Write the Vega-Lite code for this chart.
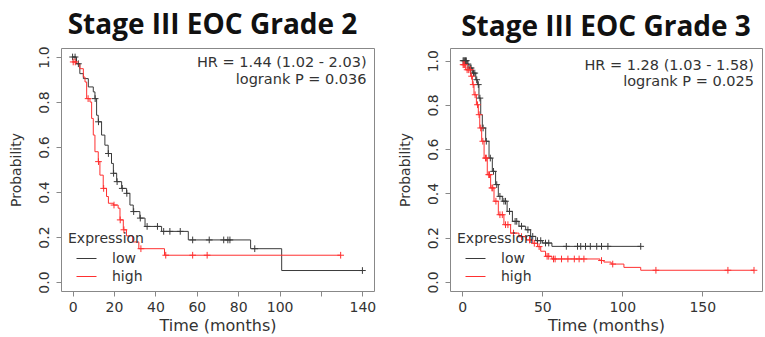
{
  "$schema": "https://vega.github.io/schema/vega-lite/v6.json",
  "background": "white",
  "padding": {"left": 8, "top": 11, "right": 0, "bottom": 0},
  "spacing": 20,
  "config": {
    "font": "DejaVu Sans",
    "view": {"stroke": "#888", "strokeWidth": 1},
    "axis": {"grid": false, "domain": false, "tickColor": "#888", "tickSize": 5, "labelColor": "#333", "titleColor": "#333", "labelFontSize": 14, "titleFontSize": 16, "titleFontWeight": "normal", "labelFont": "DejaVu Sans", "titleFont": "DejaVu Sans", "labelOverlap": false, "labelFlush": false},
    "axisY": {"labelAngle": -90, "labelAlign": "center", "labelBaseline": "bottom", "labelPadding": 5, "titlePadding": 14, "titleFontSize": 14},
    "axisX": {"labelPadding": 4, "titlePadding": 3},
    "legend": {"orient": "bottom-left", "offset": 7, "padding": 0, "titleFontSize": 14, "titleFont": "DejaVu Sans", "titleFontWeight": "normal", "titleColor": "#333", "titlePadding": 2, "labelFontSize": 14, "labelFont": "DejaVu Sans", "labelColor": "#333", "symbolType": "stroke", "symbolSize": 400, "symbolStrokeWidth": 1, "symbolOffset": 8, "labelOffset": 15, "rowPadding": 0}
  },
  "resolve": {"scale": {"color": "independent", "stroke": "independent"}, "legend": {"color": "independent", "stroke": "independent"}},
  "datasets": {
    "g2_curve": [
      {"grp": "low", "t": 0, "s": 1.0}, {"grp": "low", "t": 1.9, "s": 0.97}, {"grp": "low", "t": 3.5, "s": 0.926}, {"grp": "low", "t": 5.2, "s": 0.904}, {"grp": "low", "t": 7.6, "s": 0.867}, {"grp": "low", "t": 10, "s": 0.845}, {"grp": "low", "t": 10.8, "s": 0.815}, {"grp": "low", "t": 11.6, "s": 0.741}, {"grp": "low", "t": 12.4, "s": 0.712}, {"grp": "low", "t": 14, "s": 0.653}, {"grp": "low", "t": 15.6, "s": 0.608}, {"grp": "low", "t": 17.2, "s": 0.571}, {"grp": "low", "t": 18.8, "s": 0.527}, {"grp": "low", "t": 19.7, "s": 0.483}, {"grp": "low", "t": 21.3, "s": 0.446}, {"grp": "low", "t": 23.7, "s": 0.416}, {"grp": "low", "t": 26.1, "s": 0.394}, {"grp": "low", "t": 27.7, "s": 0.342}, {"grp": "low", "t": 29.3, "s": 0.313}, {"grp": "low", "t": 32.5, "s": 0.284}, {"grp": "low", "t": 35, "s": 0.247}, {"grp": "low", "t": 43, "s": 0.225}, {"grp": "low", "t": 55.9, "s": 0.187}, {"grp": "low", "t": 86, "s": 0.148}, {"grp": "low", "t": 101, "s": 0.051}, {"grp": "low", "t": 140, "s": 0.051},
      {"grp": "high", "t": 0, "s": 0.978}, {"grp": "high", "t": 1.9, "s": 0.97}, {"grp": "high", "t": 3.5, "s": 0.948}, {"grp": "high", "t": 5.2, "s": 0.911}, {"grp": "high", "t": 6, "s": 0.889}, {"grp": "high", "t": 6.8, "s": 0.815}, {"grp": "high", "t": 8.4, "s": 0.8}, {"grp": "high", "t": 9.2, "s": 0.727}, {"grp": "high", "t": 10, "s": 0.653}, {"grp": "high", "t": 10.8, "s": 0.579}, {"grp": "high", "t": 12.4, "s": 0.535}, {"grp": "high", "t": 13.2, "s": 0.475}, {"grp": "high", "t": 14.8, "s": 0.416}, {"grp": "high", "t": 16.4, "s": 0.38}, {"grp": "high", "t": 17.3, "s": 0.35}, {"grp": "high", "t": 19.7, "s": 0.342}, {"grp": "high", "t": 22, "s": 0.328}, {"grp": "high", "t": 22.9, "s": 0.276}, {"grp": "high", "t": 24.5, "s": 0.232}, {"grp": "high", "t": 26, "s": 0.205}, {"grp": "high", "t": 29, "s": 0.178}, {"grp": "high", "t": 32, "s": 0.148}, {"grp": "high", "t": 44.4, "s": 0.119}, {"grp": "high", "t": 129.5, "s": 0.119}
    ],
    "g2_cens": [
      {"grp": "low", "t": 0, "s": 1.0}, {"grp": "low", "t": 1.2, "s": 1.0}, {"grp": "low", "t": 2.8, "s": 0.97}, {"grp": "low", "t": 10.9, "s": 0.815}, {"grp": "low", "t": 12.5, "s": 0.712}, {"grp": "low", "t": 17.3, "s": 0.571}, {"grp": "low", "t": 19.8, "s": 0.483}, {"grp": "low", "t": 21.5, "s": 0.446}, {"grp": "low", "t": 24, "s": 0.416}, {"grp": "low", "t": 26.2, "s": 0.394}, {"grp": "low", "t": 29.5, "s": 0.313}, {"grp": "low", "t": 32.7, "s": 0.284}, {"grp": "low", "t": 36, "s": 0.247}, {"grp": "low", "t": 41, "s": 0.247}, {"grp": "low", "t": 44, "s": 0.225}, {"grp": "low", "t": 47, "s": 0.225}, {"grp": "low", "t": 52, "s": 0.225}, {"grp": "low", "t": 58, "s": 0.187}, {"grp": "low", "t": 66, "s": 0.187}, {"grp": "low", "t": 73, "s": 0.187}, {"grp": "low", "t": 75, "s": 0.187}, {"grp": "low", "t": 76, "s": 0.187}, {"grp": "low", "t": 88, "s": 0.148}, {"grp": "low", "t": 140, "s": 0.051},
      {"grp": "high", "t": 0.3, "s": 0.978}, {"grp": "high", "t": 1.3, "s": 0.978}, {"grp": "high", "t": 7.5, "s": 0.815}, {"grp": "high", "t": 12.5, "s": 0.535}, {"grp": "high", "t": 15, "s": 0.416}, {"grp": "high", "t": 20, "s": 0.342}, {"grp": "high", "t": 23, "s": 0.276}, {"grp": "high", "t": 24.8, "s": 0.232}, {"grp": "high", "t": 33, "s": 0.148}, {"grp": "high", "t": 45, "s": 0.119}, {"grp": "high", "t": 58, "s": 0.119}, {"grp": "high", "t": 65, "s": 0.119}, {"grp": "high", "t": 129.5, "s": 0.119}
    ],
    "g3_curve": [
      {"grp": "low", "t": 0, "s": 1.0}, {"grp": "low", "t": 3, "s": 0.985}, {"grp": "low", "t": 4.2, "s": 0.967}, {"grp": "low", "t": 6.3, "s": 0.944}, {"grp": "low", "t": 8.4, "s": 0.914}, {"grp": "low", "t": 9.4, "s": 0.892}, {"grp": "low", "t": 10.4, "s": 0.831}, {"grp": "low", "t": 11.5, "s": 0.756}, {"grp": "low", "t": 12.5, "s": 0.696}, {"grp": "low", "t": 14.6, "s": 0.636}, {"grp": "low", "t": 16.7, "s": 0.56}, {"grp": "low", "t": 18.75, "s": 0.5}, {"grp": "low", "t": 20.8, "s": 0.44}, {"grp": "low", "t": 22.5, "s": 0.387}, {"grp": "low", "t": 25, "s": 0.365}, {"grp": "low", "t": 28, "s": 0.319}, {"grp": "low", "t": 31.3, "s": 0.274}, {"grp": "low", "t": 35.4, "s": 0.252}, {"grp": "low", "t": 39.6, "s": 0.236}, {"grp": "low", "t": 42.7, "s": 0.206}, {"grp": "low", "t": 45.9, "s": 0.187}, {"grp": "low", "t": 50, "s": 0.176}, {"grp": "low", "t": 56, "s": 0.161}, {"grp": "low", "t": 111.5, "s": 0.161},
      {"grp": "high", "t": 0, "s": 0.982}, {"grp": "high", "t": 2.1, "s": 0.959}, {"grp": "high", "t": 5.2, "s": 0.93}, {"grp": "high", "t": 6.3, "s": 0.892}, {"grp": "high", "t": 7.3, "s": 0.846}, {"grp": "high", "t": 8.8, "s": 0.801}, {"grp": "high", "t": 10, "s": 0.756}, {"grp": "high", "t": 10.9, "s": 0.696}, {"grp": "high", "t": 12.1, "s": 0.636}, {"grp": "high", "t": 13.6, "s": 0.56}, {"grp": "high", "t": 15.6, "s": 0.485}, {"grp": "high", "t": 17.7, "s": 0.425}, {"grp": "high", "t": 19.8, "s": 0.365}, {"grp": "high", "t": 22.5, "s": 0.304}, {"grp": "high", "t": 26, "s": 0.259}, {"grp": "high", "t": 30.2, "s": 0.221}, {"grp": "high", "t": 35.4, "s": 0.205}, {"grp": "high", "t": 40, "s": 0.19}, {"grp": "high", "t": 44, "s": 0.175}, {"grp": "high", "t": 47, "s": 0.16}, {"grp": "high", "t": 49, "s": 0.139}, {"grp": "high", "t": 52, "s": 0.116}, {"grp": "high", "t": 56, "s": 0.104}, {"grp": "high", "t": 86, "s": 0.097}, {"grp": "high", "t": 88.5, "s": 0.09}, {"grp": "high", "t": 93, "s": 0.081}, {"grp": "high", "t": 101, "s": 0.066}, {"grp": "high", "t": 111.5, "s": 0.053}, {"grp": "high", "t": 182.3, "s": 0.053}
    ],
    "g3_cens": [
      {"grp": "low", "t": 0.5, "s": 1.0}, {"grp": "low", "t": 1, "s": 1.0}, {"grp": "low", "t": 1.5, "s": 1.0}, {"grp": "low", "t": 2, "s": 1.0}, {"grp": "low", "t": 2.5, "s": 1.0}, {"grp": "low", "t": 3.5, "s": 0.985}, {"grp": "low", "t": 5, "s": 0.967}, {"grp": "low", "t": 5.5, "s": 0.967}, {"grp": "low", "t": 7, "s": 0.944}, {"grp": "low", "t": 7.8, "s": 0.944}, {"grp": "low", "t": 9, "s": 0.914}, {"grp": "low", "t": 10, "s": 0.892}, {"grp": "low", "t": 11, "s": 0.831}, {"grp": "low", "t": 13, "s": 0.696}, {"grp": "low", "t": 15, "s": 0.636}, {"grp": "low", "t": 17.5, "s": 0.56}, {"grp": "low", "t": 19.5, "s": 0.5}, {"grp": "low", "t": 21.5, "s": 0.44}, {"grp": "low", "t": 23.5, "s": 0.387}, {"grp": "low", "t": 26, "s": 0.365}, {"grp": "low", "t": 27, "s": 0.365}, {"grp": "low", "t": 29.5, "s": 0.319}, {"grp": "low", "t": 33, "s": 0.274}, {"grp": "low", "t": 34, "s": 0.274}, {"grp": "low", "t": 37, "s": 0.252}, {"grp": "low", "t": 41, "s": 0.236}, {"grp": "low", "t": 44, "s": 0.206}, {"grp": "low", "t": 47, "s": 0.187}, {"grp": "low", "t": 49, "s": 0.187}, {"grp": "low", "t": 52, "s": 0.176}, {"grp": "low", "t": 54, "s": 0.176}, {"grp": "low", "t": 65, "s": 0.161}, {"grp": "low", "t": 72, "s": 0.161}, {"grp": "low", "t": 74, "s": 0.161}, {"grp": "low", "t": 77, "s": 0.161}, {"grp": "low", "t": 80, "s": 0.161}, {"grp": "low", "t": 84, "s": 0.161}, {"grp": "low", "t": 87, "s": 0.161}, {"grp": "low", "t": 91, "s": 0.161}, {"grp": "low", "t": 111.5, "s": 0.161},
      {"grp": "high", "t": 0.5, "s": 0.982}, {"grp": "high", "t": 1, "s": 0.982}, {"grp": "high", "t": 1.5, "s": 0.982}, {"grp": "high", "t": 3, "s": 0.959}, {"grp": "high", "t": 4, "s": 0.959}, {"grp": "high", "t": 5, "s": 0.959}, {"grp": "high", "t": 5.8, "s": 0.93}, {"grp": "high", "t": 6.8, "s": 0.892}, {"grp": "high", "t": 8, "s": 0.846}, {"grp": "high", "t": 9.5, "s": 0.801}, {"grp": "high", "t": 10.5, "s": 0.756}, {"grp": "high", "t": 11.5, "s": 0.696}, {"grp": "high", "t": 12.8, "s": 0.636}, {"grp": "high", "t": 14.5, "s": 0.56}, {"grp": "high", "t": 15, "s": 0.56}, {"grp": "high", "t": 16.5, "s": 0.485}, {"grp": "high", "t": 17, "s": 0.485}, {"grp": "high", "t": 18.5, "s": 0.425}, {"grp": "high", "t": 19, "s": 0.425}, {"grp": "high", "t": 21, "s": 0.365}, {"grp": "high", "t": 23.5, "s": 0.304}, {"grp": "high", "t": 25, "s": 0.304}, {"grp": "high", "t": 27, "s": 0.259}, {"grp": "high", "t": 28.5, "s": 0.259}, {"grp": "high", "t": 32, "s": 0.221}, {"grp": "high", "t": 37, "s": 0.205}, {"grp": "high", "t": 42, "s": 0.19}, {"grp": "high", "t": 45, "s": 0.175}, {"grp": "high", "t": 48, "s": 0.16}, {"grp": "high", "t": 53, "s": 0.116}, {"grp": "high", "t": 54, "s": 0.116}, {"grp": "high", "t": 57, "s": 0.104}, {"grp": "high", "t": 58, "s": 0.104}, {"grp": "high", "t": 62, "s": 0.104}, {"grp": "high", "t": 66, "s": 0.104}, {"grp": "high", "t": 70, "s": 0.104}, {"grp": "high", "t": 73, "s": 0.104}, {"grp": "high", "t": 76, "s": 0.104}, {"grp": "high", "t": 87, "s": 0.097}, {"grp": "high", "t": 94, "s": 0.081}, {"grp": "high", "t": 121, "s": 0.053}, {"grp": "high", "t": 166, "s": 0.053}, {"grp": "high", "t": 182.3, "s": 0.053}
    ],
    "g2_text": [{"t": 142, "s": 0.975, "txt": "HR = 1.44 (1.02 - 2.03)"}, {"t": 142, "s": 0.9, "txt": "logrank P = 0.036"}],
    "g3_text": [{"t": 182.3, "s": 0.975, "txt": "HR = 1.28 (1.03 - 1.58)"}, {"t": 182.3, "s": 0.905, "txt": "logrank P = 0.025"}]
  },
  "hconcat": [
    {
      "width": 313,
      "height": 243,
      "title": {"text": "Stage III EOC Grade 2", "font": "Open Sans", "fontSize": 28, "fontWeight": "bold", "color": "#111", "anchor": "middle", "offset": 6, "dx": -5},
      "layer": [
        {
          "data": {"name": "g2_curve"},
          "mark": {"type": "line", "interpolate": "step-after", "strokeWidth": 1},
          "encoding": {
            "x": {"field": "t", "type": "quantitative", "scale": {"domain": [-5.6, 145.6], "nice": false, "zero": false}, "axis": {"values": [0, 20, 40, 60, 80, 100, 120, 140], "labelExpr": "datum.value == 120 ? '' : datum.label", "title": "Time (months)"}},
            "y": {"field": "s", "type": "quantitative", "scale": {"domain": [-0.04, 1.04], "nice": false, "zero": false}, "axis": {"values": [0, 0.2, 0.4, 0.6, 0.8, 1], "format": ".1f", "title": "Probability"}},
            "color": {"field": "grp", "type": "nominal", "scale": {"domain": ["low", "high"], "range": ["#3a3a3a", "#ff3030"]}, "legend": {"title": "Expression"}}
          }
        },
        {
          "data": {"name": "g2_cens"},
          "mark": {"type": "point", "shape": "M-1,0L1,0M0,-1L0,1", "filled": false, "size": 45, "strokeWidth": 1, "opacity": 1},
          "encoding": {
            "x": {"field": "t", "type": "quantitative"},
            "y": {"field": "s", "type": "quantitative"},
            "stroke": {"field": "grp", "type": "nominal", "scale": {"domain": ["low", "high"], "range": ["#3a3a3a", "#ff3030"]}, "legend": null}
          }
        },
        {
          "data": {"name": "g2_text"},
          "mark": {"type": "text", "align": "right", "baseline": "middle", "fontSize": 14.5, "color": "#333", "font": "DejaVu Sans"},
          "encoding": {
            "x": {"field": "t", "type": "quantitative"},
            "y": {"field": "s", "type": "quantitative"},
            "text": {"field": "txt"}
          }
        }
      ]
    },
    {
      "width": 312,
      "height": 243,
      "title": {"text": "Stage III EOC Grade 3", "font": "Open Sans", "fontSize": 28, "fontWeight": "bold", "color": "#111", "anchor": "middle", "offset": 6},
      "layer": [
        {
          "data": {"name": "g3_curve"},
          "mark": {"type": "line", "interpolate": "step-after", "strokeWidth": 1},
          "encoding": {
            "x": {"field": "t", "type": "quantitative", "scale": {"domain": [-7.7, 187.3], "nice": false, "zero": false}, "axis": {"values": [0, 50, 100, 150], "title": "Time (months)"}},
            "y": {"field": "s", "type": "quantitative", "scale": {"domain": [-0.0407, 1.0574], "nice": false, "zero": false}, "axis": {"values": [0, 0.2, 0.4, 0.6, 0.8, 1], "format": ".1f", "title": "Probability"}},
            "color": {"field": "grp", "type": "nominal", "scale": {"domain": ["low", "high"], "range": ["#3a3a3a", "#ff3030"]}, "legend": {"title": "Expression"}}
          }
        },
        {
          "data": {"name": "g3_cens"},
          "mark": {"type": "point", "shape": "M-1,0L1,0M0,-1L0,1", "filled": false, "size": 45, "strokeWidth": 1, "opacity": 1},
          "encoding": {
            "x": {"field": "t", "type": "quantitative"},
            "y": {"field": "s", "type": "quantitative"},
            "stroke": {"field": "grp", "type": "nominal", "scale": {"domain": ["low", "high"], "range": ["#3a3a3a", "#ff3030"]}, "legend": null}
          }
        },
        {
          "data": {"name": "g3_text"},
          "mark": {"type": "text", "align": "right", "baseline": "middle", "fontSize": 14.5, "color": "#333", "font": "DejaVu Sans"},
          "encoding": {
            "x": {"field": "t", "type": "quantitative"},
            "y": {"field": "s", "type": "quantitative"},
            "text": {"field": "txt"}
          }
        }
      ]
    }
  ]
}
